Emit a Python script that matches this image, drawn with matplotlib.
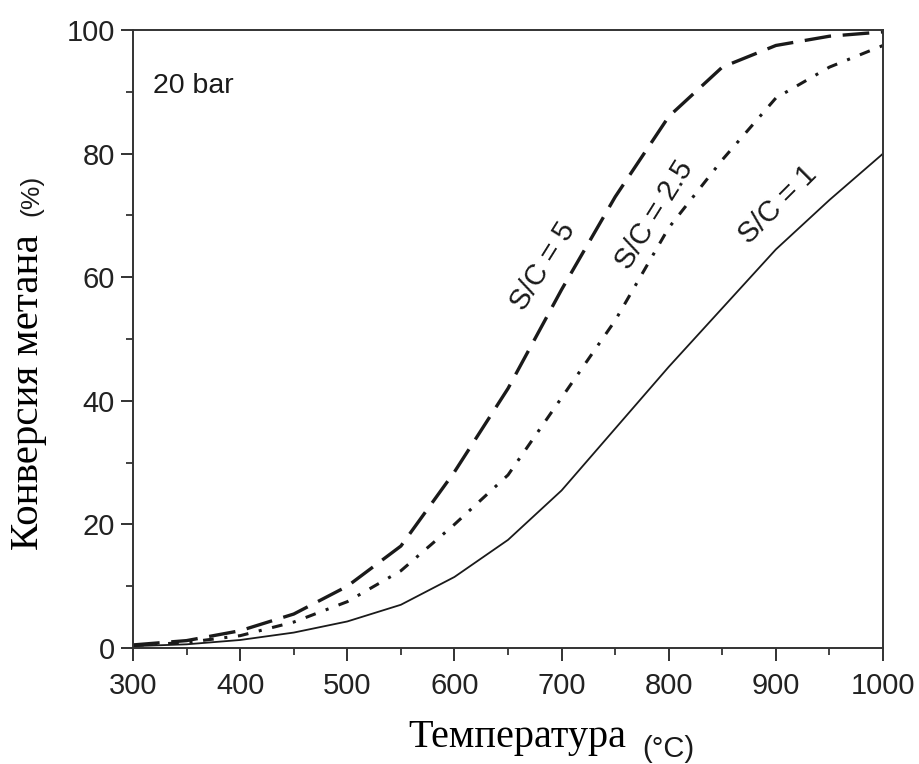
import matplotlib
matplotlib.use("Agg")
import matplotlib.pyplot as plt
from matplotlib.ticker import MultipleLocator

# temperature grid (deg C) and methane conversion (%)
temperature = [300, 350, 400, 450, 500, 550, 600, 650, 700, 750, 800, 850, 900, 950, 1000]
conv_sc1 = [0.3, 0.6, 1.3, 2.5, 4.3, 7.0, 11.5, 17.5, 25.5, 35.5, 45.5, 55.0, 64.5, 72.5, 80.0]
conv_sc25 = [0.4, 0.9, 2.0, 4.2, 7.5, 12.5, 20.0, 28.0, 40.5, 53.0, 68.0, 79.0, 89.0, 94.0, 97.5]
conv_sc5 = [0.5, 1.2, 2.8, 5.5, 10.0, 16.5, 28.5, 42.0, 58.0, 73.0, 86.0, 94.0, 97.5, 99.0, 99.7]

x_ticks = [300, 400, 500, 600, 700, 800, 900, 1000]
y_ticks = [0, 20, 40, 60, 80, 100]

SANS = "Liberation Sans"
SERIF = "Liberation Serif"
INK = "#1a1a1a"

plt.rcParams["font.family"] = SANS

fig = plt.figure(figsize=(9.2, 7.64), dpi=100)
ax = fig.add_axes([0.1446, 0.1518, 0.8152, 0.8089])

ax.plot(temperature, conv_sc1, color=INK, lw=1.3, solid_joinstyle="round")
ax.plot(temperature, conv_sc25, color=INK, lw=2.2, dashes=(3.5, 3.5, 1.0, 3.5))
ax.plot(temperature, conv_sc5, color=INK, lw=2.4, dashes=(8, 3.5))

ax.set_xlim(300, 1000)
ax.set_ylim(0, 100)
ax.set_xticks(x_ticks)
ax.set_yticks(y_ticks)
ax.xaxis.set_minor_locator(MultipleLocator(50))
ax.yaxis.set_minor_locator(MultipleLocator(10))
ax.tick_params(which="major", direction="out", length=9, width=1.3, labelsize=21,
               colors="#222222", pad=4)
ax.tick_params(axis="x", which="major", pad=8)
ax.tick_params(which="minor", direction="out", length=5, width=1.2, colors="#222222")
for sp in ax.spines.values():
    sp.set_linewidth(1.4)
    sp.set_color("#333333")

# curve labels
ax.text(683, 61.7, "S/C = 5", rotation=58, fontsize=21, ha="center", va="center", color=INK)
ax.text(787, 70.0, "S/C = 2.5", rotation=58, fontsize=21, ha="center", va="center", color=INK)
ax.text(902, 71.7, "S/C = 1", rotation=45, fontsize=21, ha="center", va="center", color=INK)
ax.text(0.026, 0.91, "20 bar", transform=ax.transAxes, fontsize=20.5, ha="left", va="center",
        color=INK)

# axis titles: serif word + small sans unit, as in the source
fig.text(0.031, 0.487, "Конверсия метана", rotation=90, fontsize=29.5, family=SERIF,
         ha="center", va="center", color="black")
fig.text(0.034, 0.744, "(%)", rotation=90, fontsize=19, ha="center", va="center", color=INK)
fig.text(0.562, 1 - 747 / 764, "Температура", fontsize=29, family=SERIF, ha="center",
         va="baseline", color="black")
fig.text(0.726, 1 - 757 / 764, "(°C)", fontsize=21, ha="center", va="baseline", color=INK)

fig.savefig("out.png", dpi=100)
